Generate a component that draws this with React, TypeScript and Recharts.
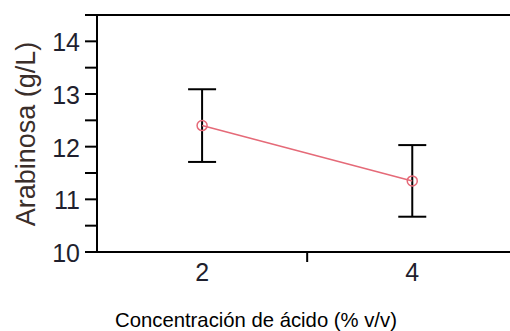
import { ComposedChart, Line, XAxis, YAxis, ErrorBar, CartesianGrid } from 'recharts';

const concentrations = [2, 4];
const arabinosa = [12.4, 11.35];
const errors = [0.69, 0.68];

const yTicks = [10, 10.5, 11, 11.5, 12, 12.5, 13, 13.5, 14, 14.5];
const xTicks = [2, 3, 4];
const xLabeled = [2, 4];
const frameTop = [14.5];

const FONT = '"Liberation Sans", Arial, sans-serif';
const RED = '#e56a78';

const data = concentrations.map((c, i) => ({ x: c, y: arabinosa[i], err: errors[i] }));

function YTick(props: any) {
  const { x, y, payload } = props;
  const v = payload.value;
  const isMajor = Number.isInteger(v);
  return (
    <g>
      <line x1={x - 12} x2={x} y1={y} y2={y} stroke="#000" strokeWidth={2} />
      {isMajor && (
        <text x={x - 17} y={y + 10} textAnchor="end" fontSize={25} fontFamily={FONT} fill="#1f1f2e">
          {v}
        </text>
      )}
    </g>
  );
}

function XTick(props: any) {
  const { x, y, payload } = props;
  const v = payload.value;
  if (xLabeled.includes(v)) {
    return (
      <text x={x} y={y + 29} textAnchor="middle" fontSize={25} fontFamily={FONT} fill="#1f1f2e">
        {v}
      </text>
    );
  }
  return <line x1={x} x2={x} y1={y} y2={y + 10} stroke="#000" strokeWidth={2} />;
}

export default function App() {
  return (
    <div style={{ position: 'absolute', left: 0, top: 0, width: 510, height: 331, background: '#fff' }}>
      <ComposedChart width={510} height={331} data={data} margin={{ top: 15, right: 0, bottom: 49, left: 0 }}>
        <CartesianGrid vertical={false} horizontalValues={frameTop} stroke="#000" strokeWidth={2} />
        <XAxis
          dataKey="x"
          type="number"
          domain={[1, 4.93]}
          allowDataOverflow
          ticks={xTicks}
          tick={<XTick />}
          tickLine={false}
          tickSize={0}
          tickMargin={0}
          axisLine={{ stroke: '#000', strokeWidth: 2 }}
          height={30}
          interval={0}
        />
        <YAxis
          type="number"
          domain={[10, 14.5]}
          ticks={yTicks}
          tick={<YTick />}
          tickLine={false}
          tickSize={0}
          tickMargin={0}
          axisLine={{ stroke: '#000', strokeWidth: 2 }}
          width={97}
          interval={0}
        />
        <Line
          dataKey="y"
          stroke={RED}
          strokeWidth={1.5}
          dot={{ r: 5, stroke: RED, fill: 'none', strokeWidth: 1.5 }}
          activeDot={false}
          isAnimationActive={false}
        >
          <ErrorBar dataKey="err" direction="y" width={14} stroke="#000" strokeWidth={2} isAnimationActive={false} />
        </Line>
      </ComposedChart>
      <svg width={510} height={331} style={{ position: 'absolute', left: 0, top: 0, pointerEvents: 'none' }}>
        <text x={35} y={134} transform="rotate(-90 35 134)" textAnchor="middle" fontSize={27} fontFamily={FONT} fill="#3a2e2a">
          Arabinosa (g/L)
        </text>
        <text x={256} y={327} textAnchor="middle" fontSize={20.3} fontFamily={FONT} fill="#000">
          Concentración de ácido (% v/v)
        </text>
      </svg>
    </div>
  );
}
